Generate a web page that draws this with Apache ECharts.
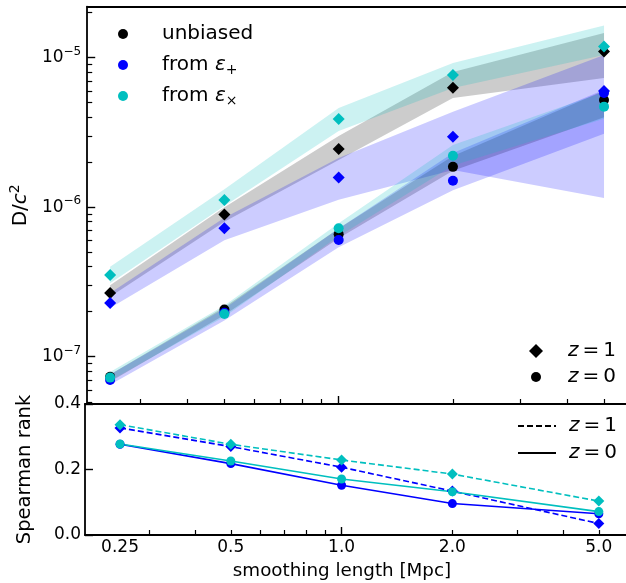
<!DOCTYPE html>
<html><head><meta charset="utf-8">
<script src="https://cdn.jsdelivr.net/npm/echarts@6/dist/echarts.min.js"></script>
<style>html,body{margin:0;padding:0;background:#fff}#c{width:626px;height:583px}</style>
</head><body><div id="c"></div>
<script>
// ---------- data ----------
const smoothing = [0.25, 0.5, 1.0, 2.0, 5.0];
const xTickLabels = ['0.25', '0.5', '1.0', '2.0', '5.0'];
const xMinorTicks = [0.2, 0.3, 0.4, 0.5, 0.6, 0.7, 0.8, 0.9, 2, 3, 4, 5];
const xMajorTicks = [1];
const yMajorTicks = [1e-7, 1e-6, 1e-5];
const yMinorTicks = [5e-8, 6e-8, 7e-8, 8e-8, 9e-8,
  2e-7, 3e-7, 4e-7, 5e-7, 6e-7, 7e-7, 8e-7, 9e-7,
  2e-6, 3e-6, 4e-6, 5e-6, 6e-6, 7e-6, 8e-6, 9e-6, 2e-5];
const spearTicks = [0, 0.2, 0.4];

// top panel markers (D/c^2)
const unbiasedZ1 = [2.67e-7, 8.95e-7, 2.45e-6, 6.3e-6, 1.097e-5];
const epsPlusZ1  = [2.29e-7, 7.22e-7, 1.58e-6, 2.96e-6, 5.99e-6];
const epsCrossZ1 = [3.52e-7, 1.117e-6, 3.89e-6, 7.66e-6, 1.185e-5];
const unbiasedZ0 = [7.35e-8, 2.07e-7, 6.59e-7, 1.86e-6, 5.21e-6];
const epsPlusZ0  = [6.98e-8, 1.97e-7, 6.04e-7, 1.50e-6, 5.8e-6];
const epsCrossZ0 = [7.25e-8, 1.93e-7, 7.22e-7, 2.21e-6, 4.70e-6];

// top panel bands (lower / upper)
const unbiasedZ1Lo = [2.52e-7, 8.0e-7, 2.07e-6, 5.37e-6, 7.3e-6];
const unbiasedZ1Hi = [3.0e-7, 1.0e-6, 2.99e-6, 8.02e-6, 1.46e-5];
const epsPlusZ1Lo  = [2.12e-7, 6.0e-7, 1.12e-6, 1.77e-6, 1.15e-6];
const epsPlusZ1Hi  = [2.67e-7, 8.5e-7, 2.13e-6, 4.35e-6, 1.04e-5];
const epsCrossZ1Lo = [3.1e-7, 1.02e-6, 3.23e-6, 6.27e-6, 1.04e-5];
const epsCrossZ1Hi = [4.0e-7, 1.32e-6, 4.61e-6, 9.2e-6, 1.64e-5];
const unbiasedZ0Lo = [6.8e-8, 1.9e-7, 6.2e-7, 1.75e-6, 4.0e-6];
const unbiasedZ0Hi = [7.6e-8, 2.15e-7, 7.2e-7, 2.2e-6, 6.0e-6];
const epsPlusZ0Lo  = [6.5e-8, 1.75e-7, 5.4e-7, 1.3e-6, 3.1e-6];
const epsPlusZ0Hi  = [7.6e-8, 2.1e-7, 7.2e-7, 2.3e-6, 6.1e-6];
const epsCrossZ0Lo = [6.9e-8, 1.85e-7, 6.4e-7, 1.9e-6, 3.9e-6];
const epsCrossZ0Hi = [7.9e-8, 2.2e-7, 7.8e-7, 2.6e-6, 5.9e-6];

// bottom panel: Spearman rank
const spearPlusZ1  = [0.327, 0.270, 0.207, 0.134, 0.035];
const spearCrossZ1 = [0.337, 0.277, 0.229, 0.186, 0.1035];
const spearPlusZ0  = [0.277, 0.218, 0.152, 0.096, 0.065];
const spearCrossZ0 = [0.278, 0.226, 0.171, 0.132, 0.0715];

// ---------- style ----------
const FONT = 'DejaVu Sans';
const BLACK = '#000000', BLUE = '#0000ff', CYAN = '#00bfbf';
const FILL = { k: 'rgba(0,0,0,0.2)', b: 'rgba(0,0,255,0.2)', c: 'rgba(0,191,191,0.2)' };

const pairs = (ys) => smoothing.map((x, i) => [x, ys[i]]);

function band(lo, hi, fill) {
  return {
    type: 'custom', coordinateSystem: 'cartesian2d', xAxisIndex: 0, yAxisIndex: 0,
    silent: true, data: [[smoothing[0], lo[0]]],
    renderItem: function (params, api) {
      const pts = [];
      for (let i = 0; i < smoothing.length; i++) pts.push(api.coord([smoothing[i], hi[i]]));
      for (let i = smoothing.length - 1; i >= 0; i--) pts.push(api.coord([smoothing[i], lo[i]]));
      return { type: 'polygon', shape: { points: pts }, style: { fill: fill } };
    }
  };
}
function marks(name, ys, symbol, color, size) {
  return { type: 'scatter', name: name, xAxisIndex: 0, yAxisIndex: 0, data: pairs(ys),
    symbol: symbol, symbolSize: size, itemStyle: { color: color, opacity: 1 } };
}
function spear(name, ys, symbol, color, size, dashed) {
  return { type: 'line', name: name, xAxisIndex: 3, yAxisIndex: 2, data: pairs(ys),
    symbol: symbol, symbolSize: size, showSymbol: true,
    lineStyle: { color: color, width: 1.6, type: dashed ? [6, 3] : 'solid' },
    itemStyle: { color: color, opacity: 1 } };
}

const spine = { show: true, lineStyle: { color: '#000', width: 1.8 } };
const noLine = { show: false };
const topX = { min: 0.2176, max: 5.713 };
const botX = { min: 0.2008, max: 5.927 };

const legendRich = {
  e: { fontFamily: FONT, fontSize: 20, fontStyle: 'italic', lineHeight: 24 },
  sub: { fontFamily: FONT, fontSize: 14, lineHeight: 14, verticalAlign: 'bottom' },
  z: { fontFamily: FONT, fontSize: 20, fontStyle: 'italic', lineHeight: 22 }
};
const legendText = {
  'unbiased': 'unbiased',
  'from ε+': 'from {e|ε}{sub|+}',
  'from ε×': 'from {e|ε}{sub|×}',
  'z = 1 (marker)': '{z|z}\u2009=\u20091',
  'z = 0 (marker)': '{z|z}\u2009=\u20090',
  'z = 1 (line)': '{z|z}\u2009=\u20091',
  'z = 0 (line)': '{z|z}\u2009=\u20090'
};
function legendBox(left, top, size, pad, data, extra) {
  return Object.assign({ orient: 'vertical', left: left, top: top, padding: 0,
    itemWidth: size, itemHeight: size, itemGap: 4, selectedMode: false, data: data,
    formatter: n => legendText[n],
    textStyle: { fontFamily: FONT, fontSize: 20, lineHeight: 22, color: '#000', padding: [0, 0, 0, pad], rich: legendRich } }, extra || {});
}

const option = {
  animation: false,
  backgroundColor: '#fff',
  textStyle: { fontFamily: FONT, color: '#000' },
  grid: [
    { left: 85, top: 6.7, right: 0, height: 397.3 },
    { left: 85, top: 404, right: 0, height: 132 }
  ],
  xAxis: [
    Object.assign({ type: 'log', gridIndex: 0, position: 'bottom', axisLine: spine,
      axisTick: { show: true, inside: true, length: 5, customValues: xMinorTicks, lineStyle: { color: '#000', width: 1.2 } },
      axisLabel: { show: false }, splitLine: { show: false } }, topX),
    Object.assign({ type: 'log', gridIndex: 0, position: 'bottom', axisLine: noLine,
      axisTick: { show: true, inside: true, length: 8, customValues: xMajorTicks, lineStyle: { color: '#000', width: 1.4 } },
      axisLabel: { show: false }, splitLine: { show: false } }, topX),
    Object.assign({ type: 'log', gridIndex: 0, position: 'top', axisLine: spine,
      axisTick: { show: false }, axisLabel: { show: false }, splitLine: { show: false } }, topX),
    Object.assign({ type: 'log', gridIndex: 1, position: 'bottom', axisLine: spine,
      axisTick: { show: true, inside: true, length: 5, customValues: xMinorTicks, lineStyle: { color: '#000', width: 1.2 } },
      axisLabel: { show: true, customValues: smoothing, margin: 4, fontSize: 17, fontFamily: FONT, color: '#000',
        formatter: function (v) {
          const i = smoothing.findIndex(s => Math.abs(s - v) < 1e-6 * s);
          return i >= 0 ? xTickLabels[i] : '';
        } },
      splitLine: { show: false },
      name: 'smoothing length [Mpc]', nameLocation: 'middle', nameGap: 25,
      nameTextStyle: { fontSize: 18.3, fontFamily: FONT, color: '#000', lineHeight: 22, padding: [0, 27, 0, 0] } }, botX),
    Object.assign({ type: 'log', gridIndex: 1, position: 'bottom', axisLine: noLine,
      axisTick: { show: true, inside: true, length: 8, customValues: xMajorTicks, lineStyle: { color: '#000', width: 1.4 } },
      axisLabel: { show: false }, splitLine: { show: false } }, botX),
    Object.assign({ type: 'log', gridIndex: 1, position: 'top', axisLine: spine,
      axisTick: { show: false }, axisLabel: { show: false }, splitLine: { show: false } }, botX)
  ],
  yAxis: [
    { type: 'log', gridIndex: 0, position: 'left', min: 4.83e-8, max: 2.19e-5, axisLine: spine,
      axisTick: { show: true, inside: true, length: 5, customValues: yMinorTicks, lineStyle: { color: '#000', width: 1.2 } },
      axisLabel: { show: false }, splitLine: { show: false } },
    { type: 'log', gridIndex: 0, position: 'left', min: 4.83e-8, max: 2.19e-5, axisLine: noLine,
      axisTick: { show: true, inside: true, length: 8, customValues: yMajorTicks, lineStyle: { color: '#000', width: 1.4 } },
      axisLabel: { show: true, customValues: yMajorTicks, margin: 6, color: '#000',
        formatter: function (v) {
          const e = Math.round(Math.log10(v));
          return '{b|10}{s|' + (e < 0 ? '\u2212' : '') + Math.abs(e) + '}';
        },
        rich: {
          b: { fontFamily: FONT, fontSize: 17, lineHeight: 24 },
          s: { fontFamily: FONT, fontSize: 12, lineHeight: 12, verticalAlign: 'top' }
        } },
      splitLine: { show: false },
      name: '{n|D/}{i|c}{s|2}', nameLocation: 'middle', nameGap: 48,
      nameTextStyle: { rich: {
        n: { fontFamily: FONT, fontSize: 20, lineHeight: 26 },
        i: { fontFamily: FONT, fontSize: 20, fontStyle: 'italic', lineHeight: 26 },
        s: { fontFamily: FONT, fontSize: 14, lineHeight: 13, verticalAlign: 'top' }
      } } },
    { type: 'value', gridIndex: 1, position: 'left', min: 0, max: 0.4, interval: 0.2, axisLine: spine,
      axisTick: { show: true, inside: true, length: 8, customValues: spearTicks, lineStyle: { color: '#000', width: 1.4 } },
      axisLabel: { show: true, margin: 4, fontSize: 17, fontFamily: FONT, color: '#000',
        formatter: v => v.toFixed(1) },
      splitLine: { show: false },
      name: 'Spearman rank', nameLocation: 'middle', nameGap: 49,
      nameTextStyle: { fontSize: 19.5, fontFamily: FONT, color: '#000', lineHeight: 22 } }
  ],
  legend: [
    { orient: 'vertical', left: 118, top: 22, padding: 0, itemWidth: 10, itemHeight: 10, itemGap: 7,
      selectedMode: false,
      data: [{ name: 'unbiased', icon: 'circle' }, { name: 'from ε+', icon: 'circle' }, { name: 'from ε×', icon: 'circle' }],
      formatter: n => legendText[n],
      textStyle: { fontFamily: FONT, fontSize: 20, lineHeight: 24, color: '#000', padding: [0, 0, 0, 29], rich: legendRich } },
    legendBox(529, 340, 14, 20, [{ name: 'z = 1 (marker)', icon: 'diamond' }]),
    legendBox(531, 366, 10, 22, [{ name: 'z = 0 (marker)', icon: 'circle' }]),
    { orient: 'vertical', left: 517, top: 415, padding: 0, itemWidth: 38, itemHeight: 14, itemGap: 5,
      selectedMode: false,
      itemStyle: { opacity: 0 },
      data: ['z = 1 (line)', 'z = 0 (line)'],
      formatter: n => legendText[n],
      textStyle: { fontFamily: FONT, fontSize: 20, lineHeight: 22, color: '#000', padding: [0, 0, 0, 8], rich: legendRich } }
  ],
  series: [
    band(unbiasedZ1Lo, unbiasedZ1Hi, FILL.k),
    band(epsPlusZ1Lo, epsPlusZ1Hi, FILL.b),
    band(epsCrossZ1Lo, epsCrossZ1Hi, FILL.c),
    band(unbiasedZ0Lo, unbiasedZ0Hi, FILL.k),
    band(epsPlusZ0Lo, epsPlusZ0Hi, FILL.b),
    band(epsCrossZ0Lo, epsCrossZ0Hi, FILL.c),
    marks('unbiased', unbiasedZ0, 'circle', BLACK, 10),
    marks('unbiased z=1', unbiasedZ1, 'diamond', BLACK, 12),
    marks('from ε+', epsPlusZ0, 'circle', BLUE, 10),
    marks('from ε+ z=1', epsPlusZ1, 'diamond', BLUE, 12),
    marks('from ε×', epsCrossZ0, 'circle', CYAN, 10),
    marks('from ε× z=1', epsCrossZ1, 'diamond', CYAN, 12),
    { type: 'scatter', name: 'z = 1 (marker)', xAxisIndex: 0, yAxisIndex: 0, data: [], symbol: 'diamond', itemStyle: { color: BLACK, opacity: 1 } },
    { type: 'scatter', name: 'z = 0 (marker)', xAxisIndex: 0, yAxisIndex: 0, data: [], symbol: 'circle', itemStyle: { color: BLACK, opacity: 1 } },
    { type: 'line', name: 'z = 1 (line)', xAxisIndex: 3, yAxisIndex: 2, data: [], symbol: 'none',
      lineStyle: { color: BLACK, width: 1.6, type: [6, 3] }, itemStyle: { color: BLACK } },
    { type: 'line', name: 'z = 0 (line)', xAxisIndex: 3, yAxisIndex: 2, data: [], symbol: 'none',
      lineStyle: { color: BLACK, width: 1.6, type: 'solid' }, itemStyle: { color: BLACK } },
    spear('ε+ z=1', spearPlusZ1, 'diamond', BLUE, 11, true),
    spear('ε+ z=0', spearPlusZ0, 'circle', BLUE, 9, false),
    spear('ε× z=1', spearCrossZ1, 'diamond', CYAN, 11, true),
    spear('ε× z=0', spearCrossZ0, 'circle', CYAN, 9, false)
  ]
};
const chart = echarts.init(document.getElementById('c'), null, { renderer: 'canvas' });
chart.setOption(option);
</script>
</body></html>
